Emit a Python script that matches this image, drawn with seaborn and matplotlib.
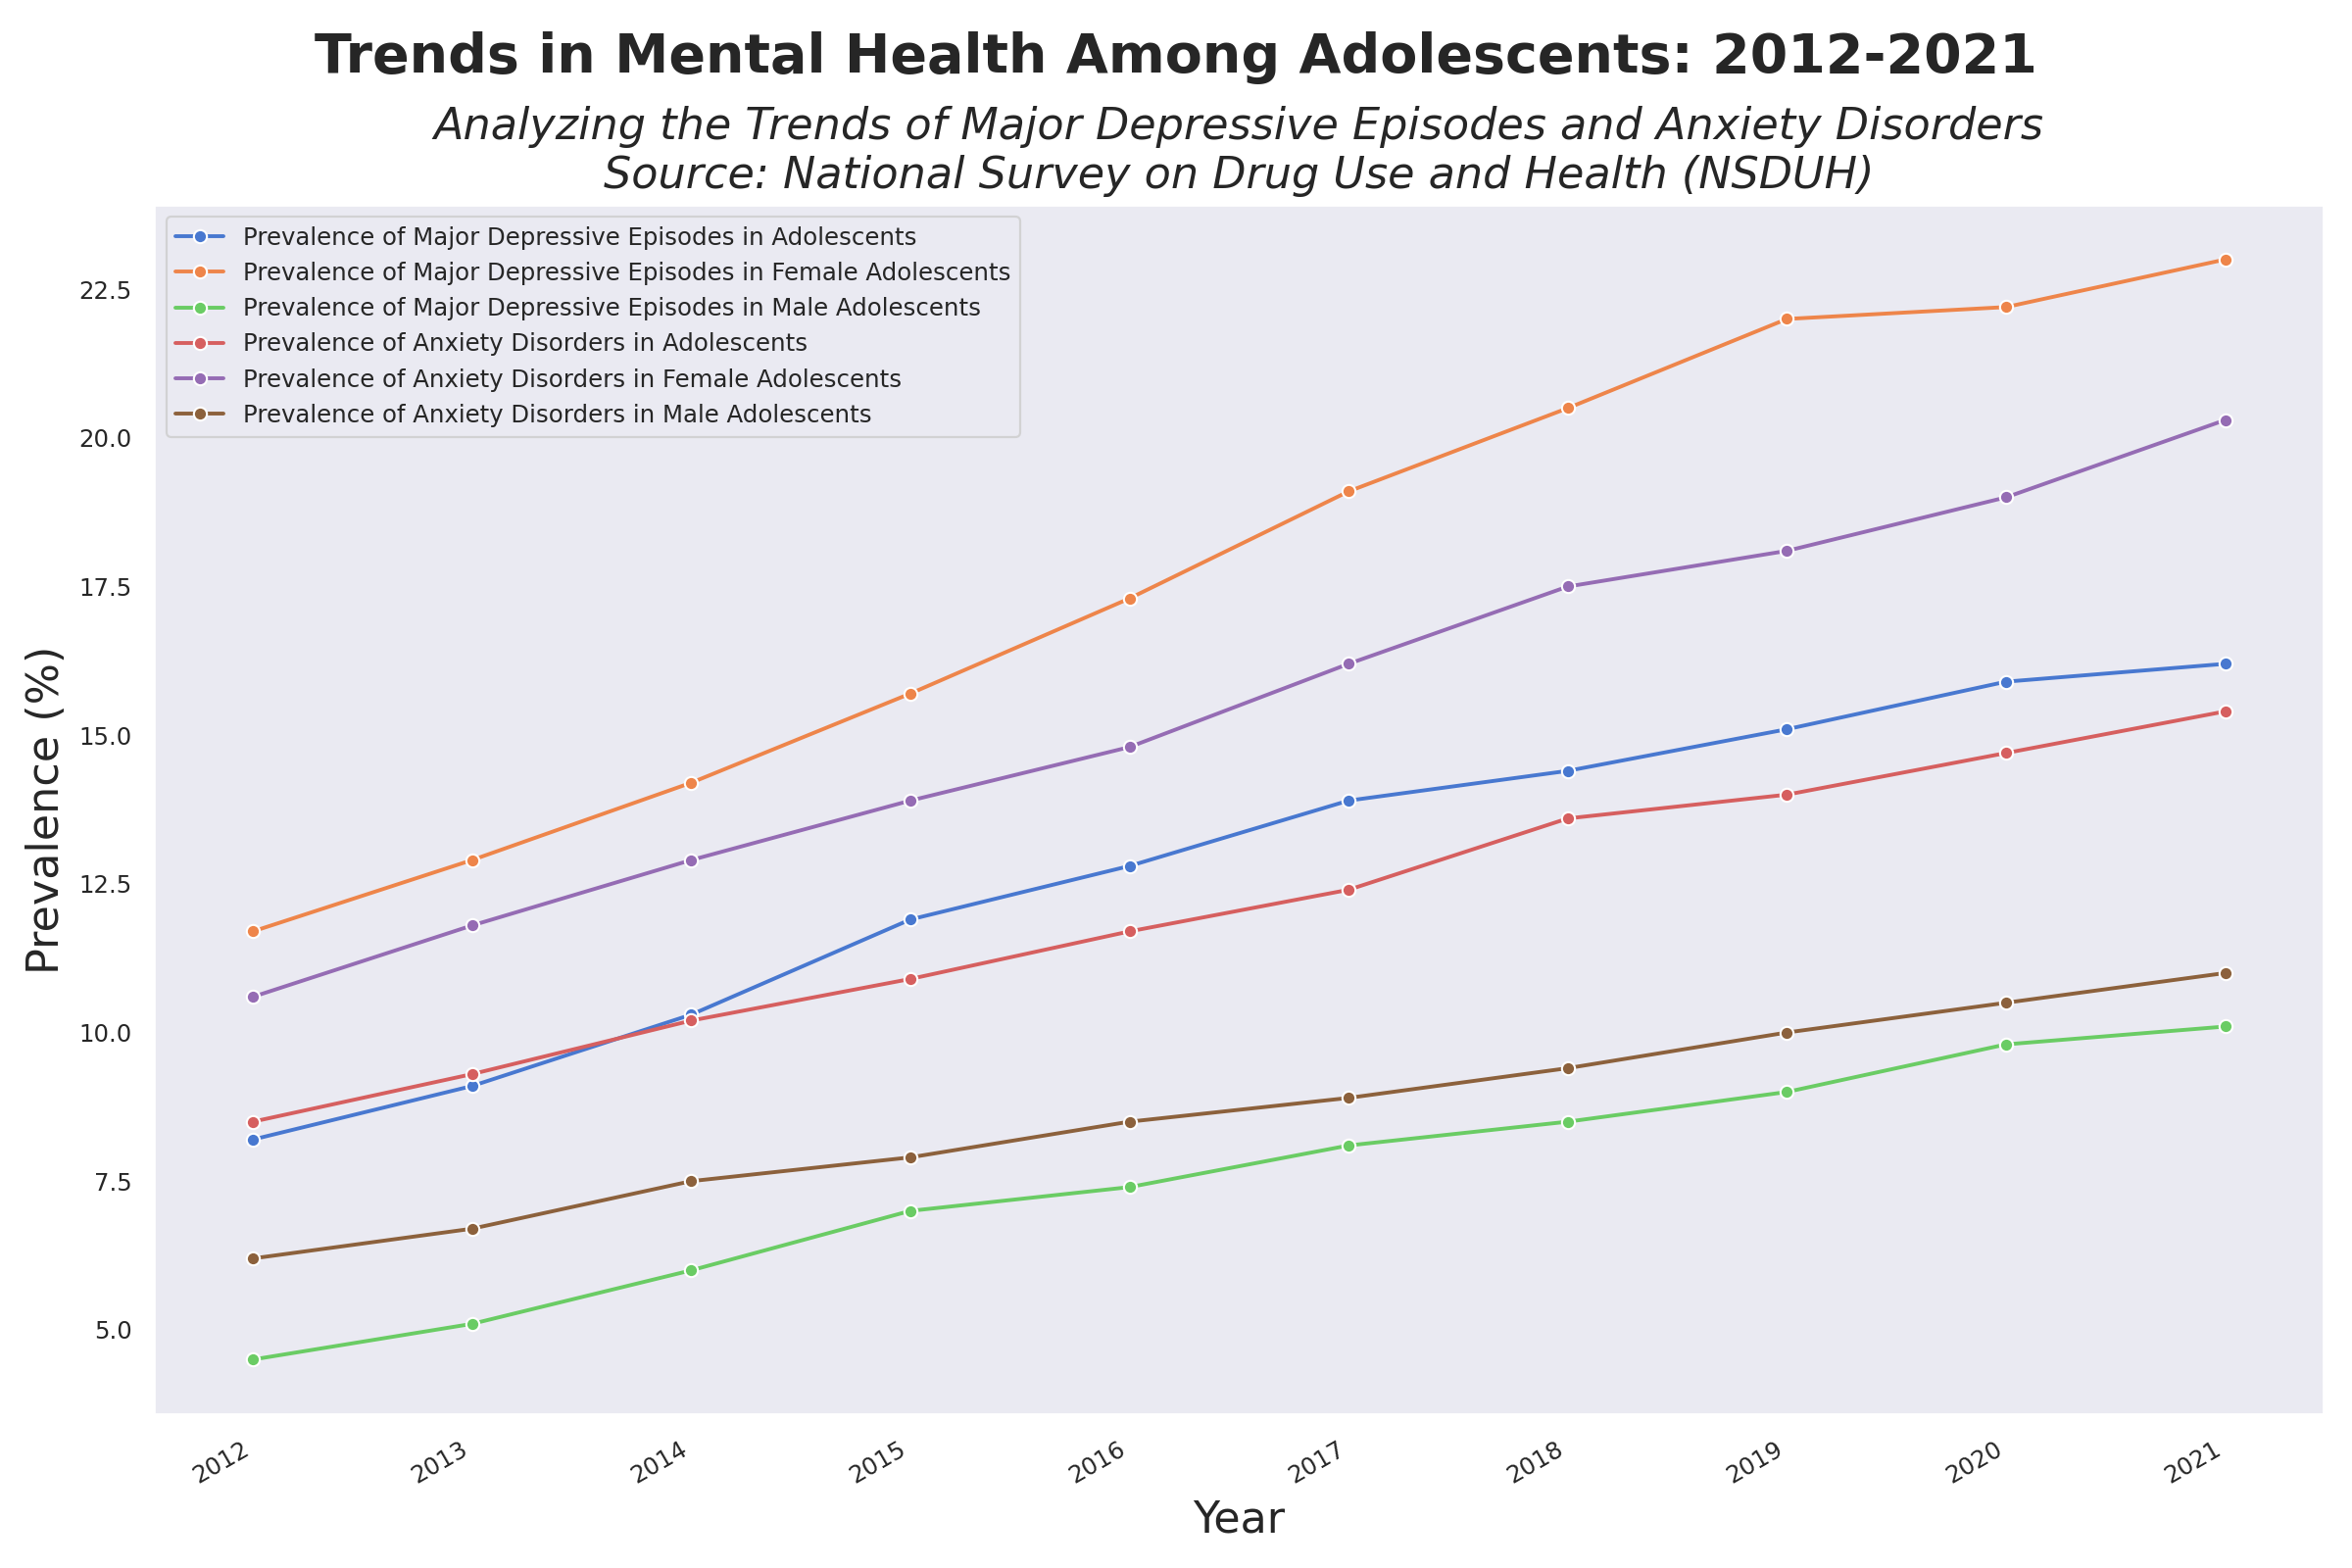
import matplotlib
matplotlib.use("Agg")
import matplotlib.pyplot as plt
import pandas as pd
import seaborn as sns

# Data (NSDUH, 2012-2021)
years = [2012, 2013, 2014, 2015, 2016, 2017, 2018, 2019, 2020, 2021]

mde_all    = [8.2, 9.1, 10.3, 11.9, 12.8, 13.9, 14.4, 15.1, 15.9, 16.2]
mde_female = [11.7, 12.9, 14.2, 15.7, 17.3, 19.1, 20.5, 22.0, 22.2, 23.0]
mde_male   = [4.5, 5.1, 6.0, 7.0, 7.4, 8.1, 8.5, 9.0, 9.8, 10.1]
anx_all    = [8.5, 9.3, 10.2, 10.9, 11.7, 12.4, 13.6, 14.0, 14.7, 15.4]
anx_female = [10.6, 11.8, 12.9, 13.9, 14.8, 16.2, 17.5, 18.1, 19.0, 20.3]
anx_male   = [6.2, 6.7, 7.5, 7.9, 8.5, 8.9, 9.4, 10.0, 10.5, 11.0]

series_names = [
    "Prevalence of Major Depressive Episodes in Adolescents",
    "Prevalence of Major Depressive Episodes in Female Adolescents",
    "Prevalence of Major Depressive Episodes in Male Adolescents",
    "Prevalence of Anxiety Disorders in Adolescents",
    "Prevalence of Anxiety Disorders in Female Adolescents",
    "Prevalence of Anxiety Disorders in Male Adolescents",
]
series_values = [mde_all, mde_female, mde_male, anx_all, anx_female, anx_male]

# long format for seaborn
rows = []
for name, vals in zip(series_names, series_values):
    for y, v in zip(years, vals):
        rows.append({"Year": y, "Prevalence": v, "Series": name})
df = pd.DataFrame(rows)

sns.set_theme(style="dark", context="paper", palette="muted")

fig, ax = plt.subplots(figsize=(12, 8))
sns.lineplot(
    data=df, x="Year", y="Prevalence", hue="Series", hue_order=series_names,
    marker="o", linewidth=1.4, ax=ax,
)

ax.set_xticks(years)
ax.set_xticklabels([str(y) for y in years])
ax.set_xlabel("Year", fontsize=16)
ax.set_ylabel("Prevalence (%)", fontsize=16)
ax.tick_params(axis="both", labelsize=8.8)
fig.autofmt_xdate()

ax.set_title(
    "Analyzing the Trends of Major Depressive Episodes and Anxiety Disorders\n"
    "Source: National Survey on Drug Use and Health (NSDUH)",
    fontsize=16, fontstyle="italic",
)
fig.suptitle("Trends in Mental Health Among Adolescents: 2012-2021",
             fontsize=20, fontweight="bold")

ax.legend(loc="upper left", fontsize=8.8, title=None)

plt.tight_layout()
fig.savefig("out.png", dpi=200)
plt.close(fig)
